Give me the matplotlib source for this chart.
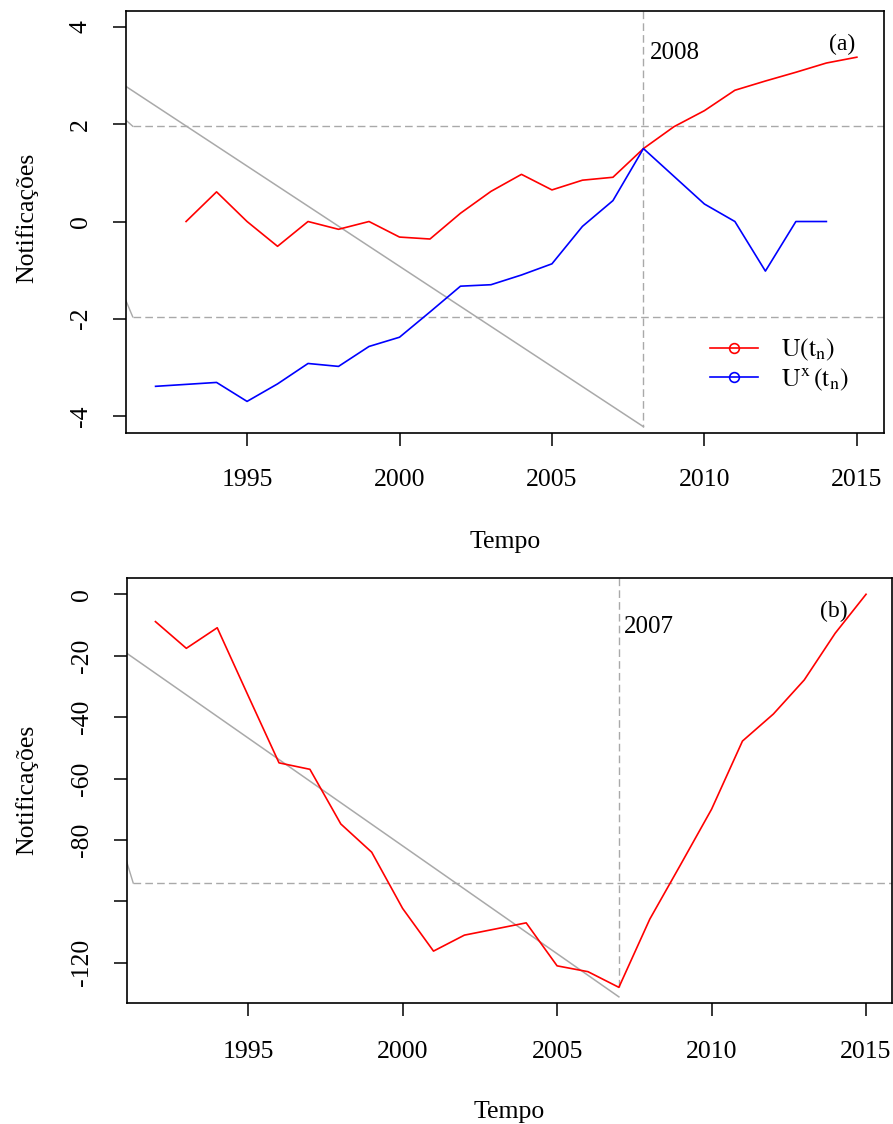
import io
import numpy as np
import matplotlib
matplotlib.use("Agg")
import matplotlib.pyplot as plt
from matplotlib.lines import Line2D
from matplotlib import mathtext

plt.rcParams['font.family'] = ['Liberation Serif', 'DejaVu Serif']
plt.rcParams['mathtext.fontset'] = 'stix'

# ---- painel (a) ----
anos_a = np.arange(1993, 2016)
u_a = [0, 0.61, 0, -0.51, 0, -0.16, 0, -0.32, -0.36, 0.17, 0.62, 0.97,
       0.65, 0.85, 0.91, 1.50, 1.95, 2.28, 2.70, 2.89, 3.07, 3.26, 3.38]
anos_ax = np.arange(1992, 2015)
ux_a = [-3.39, -3.35, -3.31, -3.70, -3.34, -2.92, -2.98, -2.57, -2.38, -1.86,
        -1.33, -1.30, -1.10, -0.87, -0.10, 0.43, 1.50, 0.93, 0.36, 0.0,
        -1.02, 0.0, 0.0]
trend_a_x = [1991, 2008]
trend_a_y = [2.79, -4.22]
lim_a = 1.96
ruptura_a = 2008

# ---- painel (b) ----
anos_b = np.arange(1992, 2016)
u_b = [-8.9, -17.6, -10.9, -33.0, -54.9, -57.0, -74.8, -84.0, -102.3, -116.2,
       -111.0, -109.0, -107.0, -121.0, -122.9, -128.0, -105.8, -88.0, -70.0,
       -47.8, -39.0, -27.9, -12.7, 0.0]
trend_b_x = [1991, 2007]
trend_b_y = [-18.7, -131.1]
lim_b = -94
ruptura_b = 2007

# rótulos da legenda (parênteses grandes se o mathtext aceitar \Big)
rotulos = [r'$\mathrm{U}\Big(\mathrm{t}_\mathrm{n}\Big)$',
           r'$\mathrm{U}^\mathrm{x}\,\Big(\mathrm{t}_\mathrm{n}\Big)$']
try:
    for r in rotulos:
        mathtext.math_to_image(r, io.BytesIO(), format='png')
except Exception:
    rotulos = [r'$\mathrm{U}\left(\mathrm{t}_\mathrm{n}\right)$',
               r'$\mathrm{U}^\mathrm{x}\,\left(\mathrm{t}_\mathrm{n}\right)$']

W, H = 893, 1124
fig = plt.figure(figsize=(W / 100, H / 100), dpi=100)

def px_axes(l, t, r, b):
    return fig.add_axes([l / W, 1 - b / H, (r - l) / W, (b - t) / H])

cinza = '#A9A9A9'
dash = (0, (5.5, 3))
fs = 18.5

def estilo(ax, xpad):
    for s in ax.spines.values():
        s.set_linewidth(1.2)
    ax.tick_params(direction='out', length=9.5, width=1.1, labelsize=fs)
    ax.tick_params(axis='x', pad=xpad)
    ax.tick_params(axis='y', pad=15, labelrotation=90)
    for lab in ax.get_yticklabels():
        lab.set_va('center')
    ax.set_xticks([1995, 2000, 2005, 2010, 2015])

# painel (a)
ax1 = px_axes(126, 11, 884, 433)
ax1.set_xlim(1991.03, 2015.89)
ax1.set_ylim(-4.35, 4.33)
ax1.plot(trend_a_x, trend_a_y, color=cinza, lw=1.1)
ax1.plot([1991.0, 1991.25], [2.10, lim_a], color=cinza, lw=1.0)
ax1.plot([1991.0, 1991.25], [-1.585, -lim_a], color=cinza, lw=1.0)
ax1.plot([1991.25, 2015.89], [lim_a, lim_a], color=cinza, lw=1.0, ls=dash)
ax1.plot([1991.25, 2015.89], [-lim_a, -lim_a], color=cinza, lw=1.0, ls=dash)
ax1.plot([ruptura_a, ruptura_a], [4.33, trend_a_y[-1]], color=cinza, lw=1.0, ls=dash)
ax1.plot(anos_a, u_a, color='red', lw=1.2)
ax1.plot(anos_ax, ux_a, color='blue', lw=1.2)
ax1.set_yticks([-4, -2, 0, 2, 4])
ax1.set_yticklabels(['-4', '-2', '0', '2', '4'])
estilo(ax1, 16.5)
ax1.text(2008.2, 3.46, str(ruptura_a), fontsize=18, ha='left', va='center')
ax1.text(2014.51, 3.64, '(a)', fontsize=17, ha='center', va='center')
handles = [Line2D([0], [0], color='red', lw=1.2, marker='o', mfc='none', ms=7, mew=1.2),
           Line2D([0], [0], color='blue', lw=1.2, marker='o', mfc='none', ms=7, mew=1.2)]
ax1.legend(handles, rotulos,
           loc='center left', bbox_to_anchor=((710 - 126) / 758, (433 - 365) / 422),
           frameon=False, fontsize=fs, borderpad=0, borderaxespad=0,
           handlelength=1.88, handletextpad=0.9, labelspacing=0.14)

# painel (b)
ax2 = px_axes(126.7, 578, 892, 1003)
ax2.set_xlim(1991.07, 2015.84)
ax2.set_ylim(-133.1, 5.3)
ax2.plot(trend_b_x, trend_b_y, color=cinza, lw=1.1)
ax2.plot([1991.0, 1991.28], [-84.8, lim_b], color=cinza, lw=1.0)
ax2.plot([1991.28, 2015.84], [lim_b, lim_b], color=cinza, lw=1.0, ls=dash)
ax2.plot([ruptura_b, ruptura_b], [5.3, min(u_b)], color=cinza, lw=1.0, ls=dash)
ax2.plot(anos_b, u_b, color='red', lw=1.2)
ax2.set_yticks([-120, -100, -80, -60, -40, -20, 0])
ax2.set_yticklabels(['-120', '', '-80', '-60', '-40', '-20', '0'])
estilo(ax2, 18)
ax2.text(2007.16, -10.65, str(ruptura_b), fontsize=18, ha='left', va='center')
ax2.text(2013.96, -5.67, '(b)', fontsize=17, ha='center', va='center')

# rótulos dos eixos
fig.text(27 / W, 1 - 218 / H, 'Notificações', rotation=90, fontsize=fs,
         ha='center', va='center')
fig.text(27 / W, 1 - 790 / H, 'Notificações', rotation=90, fontsize=fs,
         ha='center', va='center')
fig.text(505 / W, 1 - 542 / H, 'Tempo', fontsize=fs, ha='center', va='center')
fig.text(509 / W, 1 - 1112 / H, 'Tempo', fontsize=fs, ha='center', va='center')

fig.savefig('out.png', dpi=100)
